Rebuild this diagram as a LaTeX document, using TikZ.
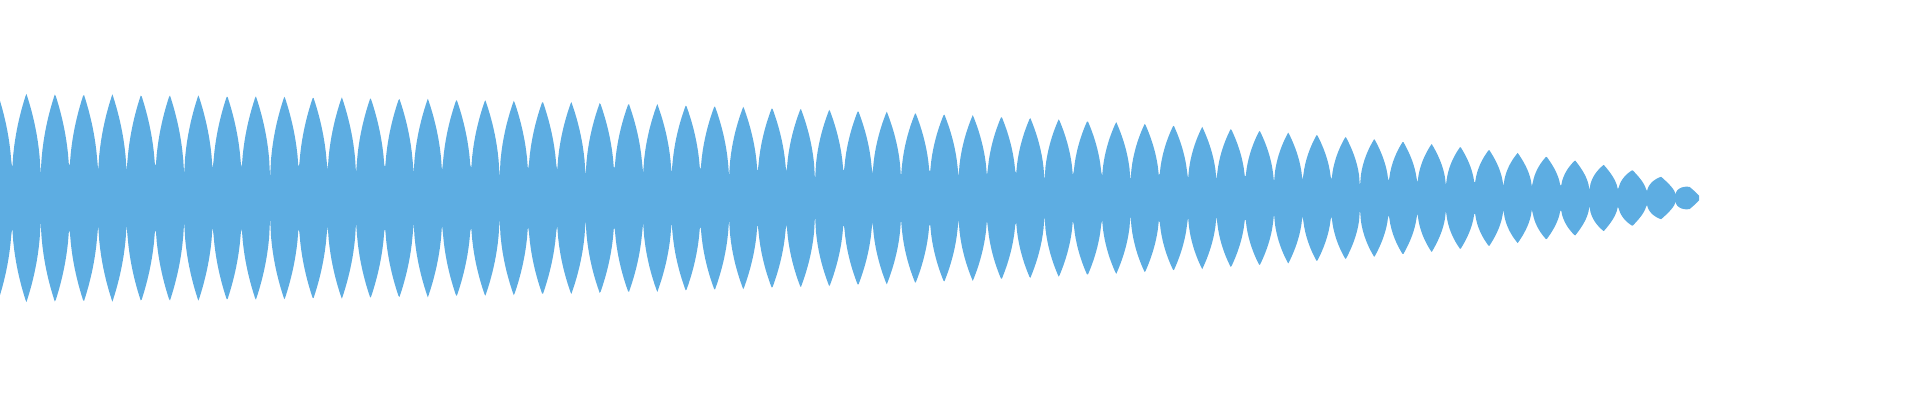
\documentclass[tikz,border=0pt]{standalone}
\begin{document}
\begin{tikzpicture}[x=1pt,y=1pt,
  declare function={
    amp(\t)=105*sqrt(max(0,1-((\t+180)/1880)^2));
    lobe(\t)=0.17+0.83*sqrt(max(0,1-abs(2*mod(\t+16.68,28.68)/28.68-1)));
  }]
\definecolor{wave}{HTML}{5DADE2}
\useasboundingbox (0,0) rectangle (1920,400);
\fill[wave] plot[domain=0:1699,samples=1800] (\x,{202+amp(\x)*lobe(\x)})
  -- plot[domain=1699:0,samples=1800] (\x,{202-amp(\x)*lobe(\x)}) -- cycle;
\end{tikzpicture}
\end{document}
